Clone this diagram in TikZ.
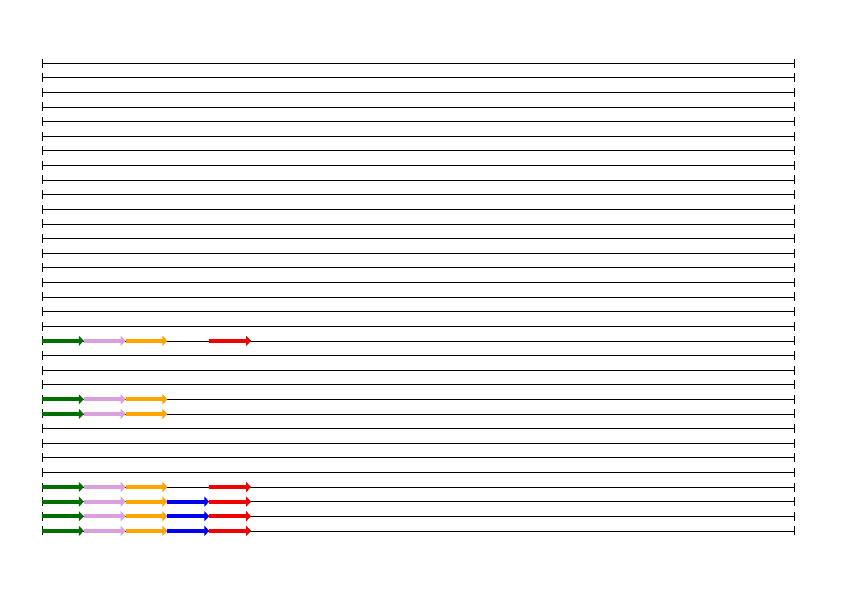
\documentclass[tikz,border=0pt]{standalone}
\usetikzlibrary{arrows.meta,calc}
\definecolor{geneA}{RGB}{0,110,0}
\definecolor{geneB}{RGB}{218,160,221}
\definecolor{geneC}{RGB}{255,165,0}
\definecolor{geneD}{RGB}{0,0,240}
\definecolor{geneE}{RGB}{240,0,0}
\begin{document}
\begin{tikzpicture}[x=41.83pt, y=14.62pt,
  track/.style={{Bar[width=9pt]}-{Bar[width=9pt]}, line width=0.6pt},
  seg/.style={-{Triangle[length=5pt,width=10pt]}, line width=4pt, draw=#1}
]
\useasboundingbox (-1.004,4.31) rectangle (19.125,-36.38);
% tracks
\foreach \i in {0,...,32}
  \draw[track] (0,-\i) coordinate (s\i) -- (18,-\i) coordinate (e\i);
% first three genes
\foreach \r in {19,23,24,29,30,31,32} {
  \draw[seg=geneA] (s\r) -- ++(1,0);
  \draw[seg=geneB] ($(s\r)+(1,0)$) -- ++(1,0);
  \draw[seg=geneC] ($(s\r)+(2,0)$) -- ++(1,0);
}
% fourth gene
\foreach \r in {30,31,32}
  \draw[seg=geneD] ($(s\r)+(3,0)$) -- ++(1,0);
% last gene
\foreach \r in {19,29,30,31,32}
  \draw[seg=geneE] ($(s\r)+(4,0)$) -- ++(1,0);
\end{tikzpicture}
\end{document}
